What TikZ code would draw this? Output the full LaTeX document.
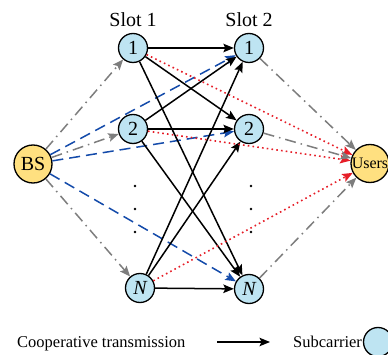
\documentclass[tikz,border=0pt]{standalone}
\usepackage{fontspec}
\setmainfont{Liberation Serif}
\usetikzlibrary{arrows.meta}
\definecolor{subblue}{RGB}{190,228,242}
\definecolor{bsyellow}{RGB}{255,224,128}
\definecolor{dblue}{RGB}{20,75,170}
\definecolor{dgray}{RGB}{125,125,125}
\definecolor{dred}{RGB}{230,30,40}
\begin{document}
\begin{tikzpicture}[x=1pt,y=-1pt,
 sub/.style={circle,draw=black,line width=1.3pt,fill=subblue,minimum size=29pt,inner sep=0pt,font=\fontsize{20}{24}\selectfont},
 big/.style={circle,draw=black,line width=1.3pt,fill=bsyellow,minimum size=38pt,inner sep=0pt},
 tipend/.style={-{Stealth[length=10.5pt,width=8.5pt,inset=2pt]}},
 solidarr/.style={tipend,line width=1.5pt,draw=black},
 grayarr/.style={tipend,line width=1.5pt,draw=dgray,dash pattern=on 11pt off 5pt on 1.5pt off 5pt},
 bluearr/.style={tipend,line width=1.5pt,draw=dblue,dash pattern=on 11pt off 6pt},
 redarr/.style={tipend,line width=1.6pt,draw=dred,dash pattern=on 1.6pt off 3.2pt},
 slotlabel/.style={font=\fontsize{20}{24}\selectfont,inner sep=0pt},
 legtext/.style={font=\fontsize{16.5}{20}\selectfont,inner sep=0pt,anchor=base west},
 dotmark/.style={circle,fill=black,inner sep=0pt,minimum size=2.6pt},
]
\useasboundingbox (0,0) rectangle (388,355);
% nodes
\node[big,font=\fontsize{20}{24}\selectfont] (bs) at (33,164) {BS};
\node[big,font=\fontsize{16}{20}\selectfont] (users) at (370,163.5) {Users};
\node[sub] (a1) at (133,48) {1};
\node[sub] (a2) at (133,129) {2};
\node[sub] (aN) at (140,288) {\itshape N};
\node[sub] (b1) at (249,48) {1};
\node[sub] (b2) at (249,129) {2};
\node[sub] (bN) at (249,289) {\itshape N};
\node[slotlabel] (s1) at (133,20) {Slot 1};
\node[slotlabel] (s2) at (249,20) {Slot 2};
\node[dotmark] (d1) at (135,186) {};
\node[dotmark] (d2) at (135,209) {};
\node[dotmark] (d3) at (135,232) {};
\node[dotmark] (e1) at (251,186) {};
\node[dotmark] (e2) at (251,209) {};
\node[dotmark] (e3) at (251,232) {};
% BS edges
\draw[grayarr] (bs) -- (a1);
\draw[grayarr] (bs) -- (a2);
\draw[grayarr] (bs) -- (aN);
\draw[bluearr] (bs) -- (b1);
\draw[bluearr] (bs) -- (b2);
\draw[bluearr] (bs) -- (bN);
% slot1 -> slot2
\foreach \i in {a1,a2,aN}{
  \foreach \j in {b1,b2,bN}{
    \draw[solidarr] (\i) -- (\j);
  }
}
% slot1 -> users
\draw[redarr] (a1) -- (users);
\draw[redarr] (a2) -- (users);
\draw[redarr] (aN) -- (users);
% slot2 -> users
\draw[grayarr] (b1) -- (users);
\draw[grayarr] (b2) -- (users);
\draw[grayarr] (bN) -- (users);
% legend
\node[legtext] (lt1) at (17,347.5) {Cooperative transmission};
\coordinate (la) at (217,342);
\coordinate (lb) at (270,342);
\draw[solidarr] (la) -- (lb);
\node[legtext] (lt2) at (293,347.5) {Subcarrier};
\node[sub] (lc) at (378,342) {};
\end{tikzpicture}
\end{document}
